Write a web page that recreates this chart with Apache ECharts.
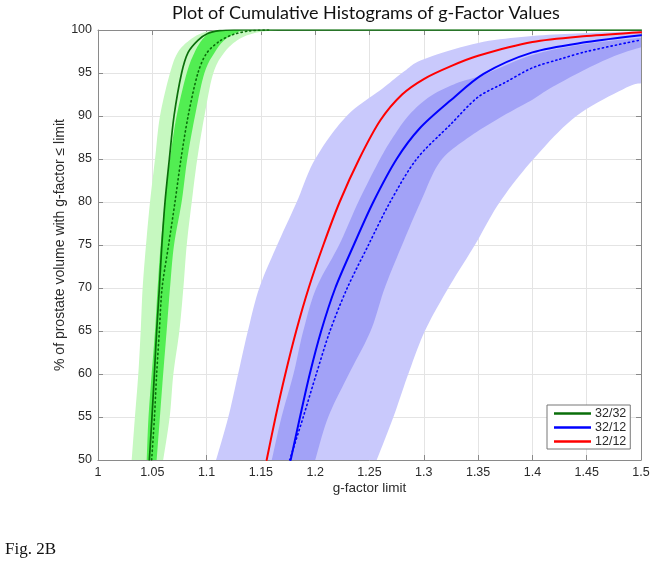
<!DOCTYPE html>
<html><head><meta charset="utf-8">
<script src="https://cdn.jsdelivr.net/npm/echarts@6/dist/echarts.min.js"></script>
<style>html,body{margin:0;padding:0;background:#fff}#c{width:654px;height:563px}</style>
</head><body><div id="c"></div>
<script>
// ---------- data (x = g-factor limit, y = % of prostate volume) ----------
const titleText = 'Plot of Cumulative Histograms of g-Factor Values';
const xName = 'g-factor limit';
const yName = '% of prostate volume with g-factor \u2264 limit';
const figLabel = 'Fig. 2B';
const seriesNames = ['32/32', '32/12', '12/12'];
const xRange = [1, 1.5, 0.05];
const yRange = [50, 100, 5];

// 32/32 (green)
const green3232 = [[1.0473,50],[1.0497,55],[1.0519,60],[1.054,65],[1.0565,70],[1.0588,75],[1.0617,80],[1.0657,85],[1.070,90],[1.077,95],[1.083,97.4],[1.092,98.8],[1.101,99.6],[1.112,99.92],[1.125,100],[1.5,100]];
const green3232Dotted = [[1.0494,50],[1.052,55],[1.054,60],[1.0565,65],[1.059,70],[1.065,75],[1.0709,80],[1.0764,85],[1.083,90],[1.092,95],[1.100,97.3],[1.112,98.7],[1.125,99.5],[1.14,99.9],[1.158,100]];
const greenOuterLeft = [[1.031,50],[1.034,55],[1.0371,60],[1.0393,65],[1.0411,70],[1.0442,75],[1.0479,80],[1.0525,85],[1.0571,90],[1.0663,95],[1.074,97.5],[1.0863,99],[1.097,99.7],[1.11,100]];
const greenOuterRight = [[1.060,50],[1.066,55],[1.0694,60],[1.0749,65],[1.0786,70],[1.0817,75],[1.0863,80],[1.0914,85],[1.098,90],[1.1062,95],[1.117,97.5],[1.1308,99],[1.1461,99.7],[1.165,100]];
const greenInnerLeft = [[1.0448,50],[1.0465,55],[1.0494,60],[1.0525,65],[1.0549,70],[1.0577,75],[1.0617,80],[1.0663,85],[1.0724,90],[1.0817,95],[1.0893,97.5],[1.0967,99],[1.105,99.8],[1.115,100]];
const greenInnerRight = [[1.054,50],[1.057,55],[1.060,60],[1.0632,65],[1.0663,70],[1.070,75],[1.077,80],[1.0822,85],[1.0893,90],[1.098,95],[1.108,97.5],[1.118,99],[1.133,100]];

// 32/12 (blue)
const blue3212 = [[1.1774,50],[1.186,55],[1.195,60],[1.2055,65],[1.2185,70],[1.2355,75],[1.2535,80],[1.275,85],[1.2965,88.6],[1.3245,91.8],[1.355,94.9],[1.4,97.4],[1.45,98.6],[1.5,99.4]];
const blue3212Dotted = [[1.1765,50],[1.189,55],[1.201,60],[1.2136,65],[1.2295,70],[1.249,75],[1.269,80],[1.2934,85],[1.3245,89],[1.35,92.2],[1.375,93.9],[1.4,95.6],[1.425,96.6],[1.45,97.5],[1.5,98.85]];
const blueOuterUpper = [[1.1087,50],[1.12,55],[1.129,60],[1.138,65],[1.1485,70],[1.165,75],[1.183,80],[1.2,85],[1.229,90],[1.262,93.2],[1.282,95.2],[1.3,96.6],[1.35,98.5],[1.4,99.3],[1.45,99.65],[1.5,99.85]];
const blueOuterLower = [[1.2566,50],[1.272,55],[1.2857,60],[1.301,65],[1.3226,70],[1.347,75],[1.37,80],[1.401,85],[1.4405,90],[1.4865,93.3],[1.5,93.8]];
const blueInnerUpper = [[1.16,50],[1.169,55],[1.18,60],[1.189,65],[1.201,70],[1.222,75],[1.2397,80],[1.2597,85],[1.273,87.8],[1.287,90.2],[1.306,92.3],[1.33,93.8],[1.355,94.8],[1.4,97.1],[1.45,98.4],[1.5,99.1]];
const blueInnerLower = [[1.2,50],[1.212,55],[1.231,60],[1.251,65],[1.264,70],[1.28,75],[1.297,80],[1.315,84.7],[1.34,87.4],[1.37,89.8],[1.4,91.9],[1.416,93.2],[1.45,95.5],[1.478,97.1],[1.5,98]];

// 12/12 (red)
const red1212 = [[1.1553,50],[1.1635,55],[1.1725,60],[1.1825,65],[1.194,70],[1.2075,75],[1.2225,80],[1.2405,85],[1.26,89.5],[1.28,92.5],[1.3,94.3],[1.325,95.8],[1.35,97.0],[1.4,98.6],[1.45,99.3],[1.5,99.75]];

// ---------- chart ----------
const GREEN = '#0a6e0a', BLUE = '#0000ff', RED = '#ff0000';
const AXIS = '#8a8a8a', TXT = '#2a2a2a', GRIDC = '#e4e4e4';
const FONT = '"Liberation Sans", Arial, sans-serif';

// Catmull-Rom densification in pixel space (rendering only)
function crSpline(pts, steps) {
  if (pts.length < 3) return pts;
  const out = [];
  for (let i = 0; i < pts.length - 1; i++) {
    const p0 = pts[Math.max(0, i - 1)], p1 = pts[i], p2 = pts[i + 1], p3 = pts[Math.min(pts.length - 1, i + 2)];
    for (let s = 0; s < steps; s++) {
      const t = s / steps, t2 = t * t, t3 = t2 * t;
      const f = (a, b, c, d) => 0.5 * ((2 * b) + (-a + c) * t + (2 * a - 5 * b + 4 * c - d) * t2 + (-a + 3 * b - 3 * c + d) * t3);
      out.push([f(p0[0], p1[0], p2[0], p3[0]), f(p0[1], p1[1], p2[1], p3[1])]);
    }
  }
  out.push(pts[pts.length - 1]);
  return out;
}
function band(name, edgeA, edgeB, color) {
  const poly = edgeA.concat(edgeB.slice().reverse());
  return {
    type: 'custom', name: name, data: poly, clip: true, silent: true, z: 1,
    encode: { x: 0, y: 1 },
    renderItem: function (params, api) {
      if (params.dataIndex !== 0) return null;
      const a = crSpline(edgeA.map(p => api.coord(p)), 10);
      const b = crSpline(edgeB.map(p => api.coord(p)), 10).reverse();
      return { type: 'polygon', shape: { points: a.concat(b) }, style: { fill: color } };
    }
  };
}
function line(name, data, color, width, dotted, z) {
  return {
    type: 'line', name: name, data: data, showSymbol: false, symbol: 'none', smooth: 0.3,
    clip: true, z: z, silent: true,
    lineStyle: { color: color, width: width, type: dotted ? [1.2, 3.2] : 'solid', cap: 'round' },
    itemStyle: { color: color }
  };
}
const axisCommon = {
  axisLine: { show: true, onZero: false, lineStyle: { color: AXIS, width: 1 } },
  axisTick: { show: true, inside: true, length: 5, lineStyle: { color: AXIS } },
};
const chart = echarts.init(document.getElementById('c'), null, { renderer: 'canvas' });
chart.setOption({
  animation: false,
  backgroundColor: '#fff',
  grid: { left: 98, right: 13, top: 30, bottom: 103, containLabel: false },
  xAxis: [
    Object.assign({ type: 'value', min: xRange[0], max: xRange[1], interval: xRange[2], position: 'bottom',
      name: xName, nameLocation: 'middle', nameGap: 21, nameMoveOverlap: false,
      nameTextStyle: { fontFamily: FONT, fontSize: 13.5, color: TXT },
      axisLabel: { fontFamily: FONT, fontSize: 12.5, color: TXT, margin: 6 },
      splitLine: { show: true, lineStyle: { color: GRIDC, width: 1 } } }, axisCommon),
    Object.assign({ type: 'value', min: xRange[0], max: xRange[1], interval: xRange[2], position: 'top',
      axisLabel: { show: false }, splitLine: { show: false } }, axisCommon)
  ],
  yAxis: [
    Object.assign({ type: 'value', min: yRange[0], max: yRange[1], interval: yRange[2], position: 'left',
      name: yName, nameLocation: 'middle', nameGap: 31, nameRotate: 90, nameMoveOverlap: false,
      nameTextStyle: { fontFamily: FONT, fontSize: 14, color: TXT },
      axisLabel: { fontFamily: FONT, fontSize: 12.5, color: TXT, margin: 6 },
      splitLine: { show: true, lineStyle: { color: GRIDC, width: 1 } } }, axisCommon),
    Object.assign({ type: 'value', min: yRange[0], max: yRange[1], interval: yRange[2], position: 'right',
      axisLabel: { show: false }, splitLine: { show: false } }, axisCommon)
  ],
  legend: {
    data: seriesNames.map(n => ({ name: n })),
    orient: 'vertical', left: 547, top: 405,
    icon: 'rect', itemWidth: 37, itemHeight: 2.5, itemGap: 1,
    padding: [2, 4, 1, 7],
    backgroundColor: '#fff', borderColor: '#777', borderWidth: 1, borderRadius: 0,
    textStyle: { fontFamily: FONT, fontSize: 12.5, color: TXT, lineHeight: 11, padding: [0, 0, 0, -1] },
    selectedMode: false
  },
  graphic: [
    { type: 'text', left: 369 - 197, top: 4, style: { text: titleText, font: '18px Lato, "Open Sans", sans-serif', fill: '#111' } },
    { type: 'text', left: 5, top: 541, style: { text: figLabel, font: '17px "Liberation Serif", "Times New Roman", serif', fill: '#111' } }
  ],
  series: [
    band('greenOuter', greenOuterLeft, greenOuterRight, '#c6f8c0'),
    band('greenInner', greenInnerLeft, greenInnerRight, '#52ee52'),
    band('blueOuter', blueOuterUpper, blueOuterLower, '#c9c9fc'),
    band('blueInner', blueInnerUpper, blueInnerLower, '#a2a2f7'),
    line('32/32 mean', green3232Dotted, GREEN, 1.6, true, 3),
    line('32/12 mean', blue3212Dotted, BLUE, 1.6, true, 3),
    line(seriesNames[0], green3232, GREEN, 1.7, false, 4),
    line(seriesNames[1], blue3212, BLUE, 2, false, 4),
    line(seriesNames[2], red1212, RED, 2, false, 4)
  ]
});
</script>
</body></html>
